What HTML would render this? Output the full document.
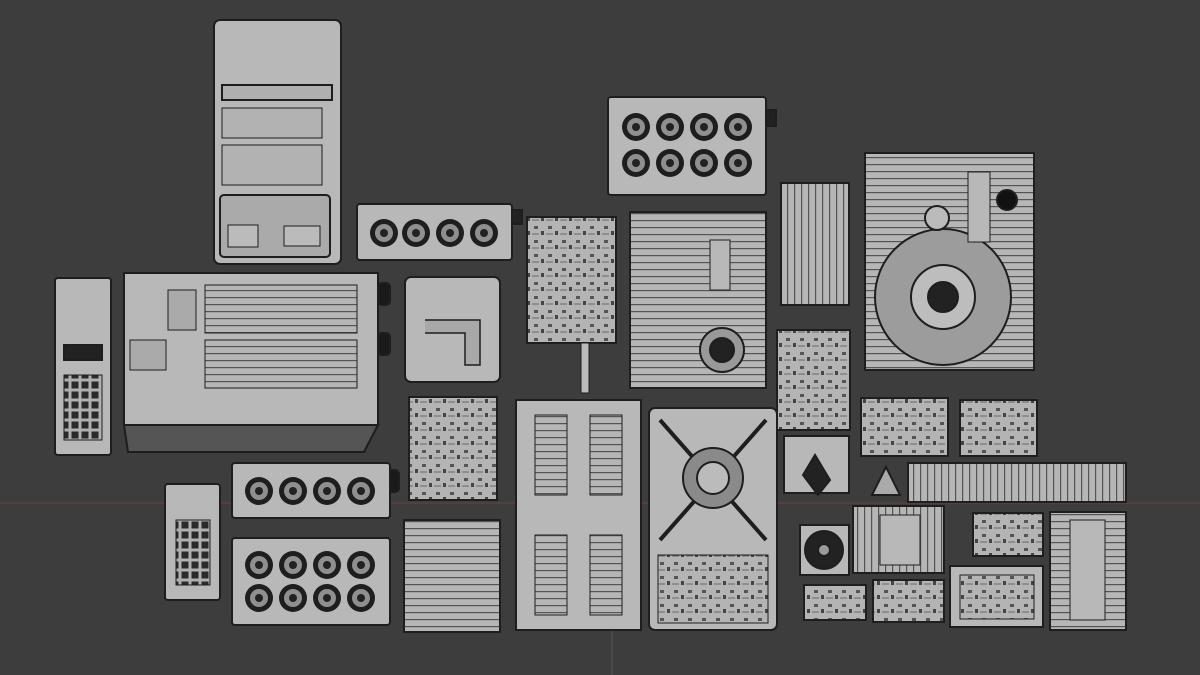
<!DOCTYPE html>
<html><head><meta charset="utf-8"><style>
html,body{margin:0;padding:0;background:#3d3d3d;}
svg{display:block}
</style></head><body>
<svg width="1200" height="675" viewBox="0 0 1200 675" xmlns="http://www.w3.org/2000/svg">
<defs>
<pattern id="vent" width="8" height="7" patternUnits="userSpaceOnUse"><rect width="8" height="7" fill="#b6b6b6"/><rect y="3" width="8" height="1.2" fill="#555"/></pattern>
<pattern id="vvent" width="7" height="8" patternUnits="userSpaceOnUse"><rect width="7" height="8" fill="#b6b6b6"/><rect x="3" width="1.2" height="8" fill="#555"/></pattern>
<pattern id="circ" width="14" height="14" patternUnits="userSpaceOnUse"><rect width="14" height="14" fill="#b4b4b4"/><rect x="2" y="2" width="4" height="3" fill="#555"/><rect x="9" y="7" width="3" height="4" fill="#444"/><line x1="0" y1="10" x2="7" y2="10" stroke="#555" stroke-width="0.8"/></pattern>
<g id="fan"><circle r="14" fill="#1e1e1e"/><circle r="9" fill="#8f8f8f"/><circle r="4" fill="#222"/></g>
<pattern id="keys" width="10" height="10" patternUnits="userSpaceOnUse"><rect width="10" height="10" fill="#b0b0b0"/><rect x="1.5" y="1.5" width="7" height="7" fill="#2a2a2a"/></pattern>
</defs>
<rect width="1200" height="675" fill="#3d3d3d"/>
<line x1="0" y1="503" x2="1200" y2="503" stroke="#6a4444" stroke-width="1"/>
<line x1="612" y1="600" x2="612" y2="675" stroke="#4b5a45" stroke-width="1"/>
<g stroke="#1e1e1e" stroke-width="2">
<rect x="214" y="20" width="127" height="244" rx="6" fill="#b8b8b8"/>
<rect x="222" y="85" width="110" height="15" fill="#b0b0b0"/>
<rect x="222" y="108" width="100" height="30" fill="#b2b2b2" stroke-width="1"/>
<rect x="222" y="145" width="100" height="40" fill="#b2b2b2" stroke-width="1"/>
<rect x="220" y="195" width="110" height="62" rx="4" fill="#aaa"/>
<rect x="228" y="225" width="30" height="22" fill="#bbb" stroke-width="1"/>
<rect x="284" y="226" width="36" height="20" fill="#bbb" stroke-width="1"/>
<rect x="357" y="204" width="155" height="56" rx="3" fill="#b8b8b8"/>
<rect x="512" y="210" width="10" height="14" fill="#222"/>
<rect x="608" y="97" width="158" height="98" rx="3" fill="#b8b8b8"/>
<rect x="766" y="110" width="10" height="16" fill="#222"/>
<rect x="55" y="278" width="56" height="177" rx="3" fill="#b8b8b8"/>
<rect x="64" y="345" width="38" height="15" fill="#222"/>
<rect x="64" y="375" width="38" height="65" fill="url(#keys)" stroke-width="1"/>
<rect x="124" y="273" width="254" height="152" fill="#b8b8b8"/>
<polygon points="124,425 378,425 364,452 128,452" fill="#555"/>
<rect x="205" y="285" width="152" height="48" fill="url(#vent)" stroke-width="1"/>
<rect x="205" y="340" width="152" height="48" fill="url(#vent)" stroke-width="1"/>
<rect x="168" y="290" width="28" height="40" fill="#aaa" stroke-width="1"/>
<rect x="130" y="340" width="36" height="30" fill="#aaa" stroke-width="1"/>
<rect x="378" y="283" width="12" height="22" rx="4" fill="#1a1a1a"/>
<rect x="378" y="333" width="12" height="22" rx="4" fill="#1a1a1a"/>
<rect x="405" y="277" width="95" height="105" rx="6" fill="#b8b8b8"/>
<polyline points="425,320 480,320 480,365 465,365 465,333 425,333" fill="#a8a8a8" stroke-width="1.5"/>
<rect x="527" y="217" width="89" height="126" fill="url(#circ)"/>
<rect x="581" y="343" width="8" height="50" fill="#bbb" stroke-width="1"/>
<rect x="630" y="212" width="136" height="176" fill="url(#vent)"/>
<rect x="710" y="240" width="20" height="50" fill="#b8b8b8" stroke-width="1"/>
<circle cx="722" cy="350" r="22" fill="#999"/>
<circle cx="722" cy="350" r="12" fill="#222"/>
<rect x="781" y="183" width="68" height="122" fill="url(#vvent)"/>
<rect x="865" y="153" width="169" height="217" fill="url(#vent)"/>
<circle cx="943" cy="297" r="68" fill="#9c9c9c"/>
<circle cx="943" cy="297" r="32" fill="#bdbdbd"/>
<circle cx="943" cy="297" r="15" fill="#222"/>
<circle cx="937" cy="218" r="12" fill="#bbb"/>
<circle cx="1007" cy="200" r="10" fill="#111"/>
<rect x="968" y="172" width="22" height="70" fill="#b8b8b8" stroke-width="1"/>
<rect x="777" y="330" width="73" height="100" fill="url(#circ)"/>
<rect x="409" y="397" width="88" height="103" fill="url(#circ)"/>
<rect x="385" y="470" width="14" height="22" rx="4" fill="#1a1a1a"/>
<rect x="516" y="400" width="125" height="230" fill="#b8b8b8"/>
<rect x="535" y="415" width="32" height="80" fill="url(#vent)" stroke-width="1"/>
<rect x="590" y="415" width="32" height="80" fill="url(#vent)" stroke-width="1"/>
<rect x="535" y="535" width="32" height="80" fill="url(#vent)" stroke-width="1"/>
<rect x="590" y="535" width="32" height="80" fill="url(#vent)" stroke-width="1"/>
<rect x="649" y="408" width="128" height="222" rx="6" fill="#b8b8b8"/>
<line x1="660" y1="420" x2="766" y2="540" stroke-width="4"/>
<line x1="766" y1="420" x2="660" y2="540" stroke-width="4"/>
<circle cx="713" cy="478" r="30" fill="#8a8a8a"/>
<circle cx="713" cy="478" r="16" fill="#bbb"/>
<rect x="658" y="555" width="110" height="68" fill="url(#circ)" stroke-width="1"/>
<rect x="784" y="436" width="65" height="57" fill="#b8b8b8"/>
<polygon points="803,475 815,455 830,480 818,495" fill="#222"/>
<rect x="861" y="398" width="87" height="58" fill="url(#circ)"/>
<rect x="960" y="400" width="77" height="56" fill="url(#circ)"/>
<rect x="908" y="463" width="218" height="39" fill="url(#vvent)"/>
<polygon points="886,467 900,495 872,495" fill="#aaa"/>
<rect x="232" y="463" width="158" height="55" rx="3" fill="#b8b8b8"/>
<rect x="165" y="484" width="55" height="116" rx="3" fill="#b8b8b8"/>
<rect x="176" y="520" width="34" height="65" fill="url(#keys)" stroke-width="1"/>
<rect x="232" y="538" width="158" height="87" rx="3" fill="#b8b8b8"/>
<rect x="404" y="520" width="96" height="112" fill="url(#vent)"/>
<rect x="800" y="525" width="49" height="50" fill="#b8b8b8"/>
<circle cx="824" cy="550" r="19" fill="#222"/><circle cx="824" cy="550" r="6" fill="#999"/>
<rect x="853" y="506" width="91" height="67" fill="url(#vvent)"/>
<rect x="880" y="515" width="40" height="50" fill="#b8b8b8" stroke-width="1"/>
<rect x="973" y="513" width="70" height="43" fill="url(#circ)"/>
<rect x="1050" y="512" width="76" height="118" fill="url(#vent)"/>
<rect x="1070" y="520" width="35" height="100" fill="#b8b8b8" stroke-width="1"/>
<rect x="950" y="566" width="93" height="61" fill="#b8b8b8"/>
<rect x="960" y="575" width="74" height="44" fill="url(#circ)" stroke-width="1"/>
<rect x="804" y="585" width="62" height="35" fill="url(#circ)"/>
<rect x="873" y="580" width="71" height="42" fill="url(#circ)"/>
</g>
<g>
<use href="#fan" x="384" y="233"/><use href="#fan" x="416" y="233"/><use href="#fan" x="450" y="233"/><use href="#fan" x="484" y="233"/>
<use href="#fan" x="636" y="127"/><use href="#fan" x="670" y="127"/><use href="#fan" x="704" y="127"/><use href="#fan" x="738" y="127"/>
<use href="#fan" x="636" y="163"/><use href="#fan" x="670" y="163"/><use href="#fan" x="704" y="163"/><use href="#fan" x="738" y="163"/>
<use href="#fan" x="259" y="491"/><use href="#fan" x="293" y="491"/><use href="#fan" x="327" y="491"/><use href="#fan" x="361" y="491"/>
<use href="#fan" x="259" y="565"/><use href="#fan" x="293" y="565"/><use href="#fan" x="327" y="565"/><use href="#fan" x="361" y="565"/>
<use href="#fan" x="259" y="598"/><use href="#fan" x="293" y="598"/><use href="#fan" x="327" y="598"/><use href="#fan" x="361" y="598"/>
</g>
</svg>
</body></html>
